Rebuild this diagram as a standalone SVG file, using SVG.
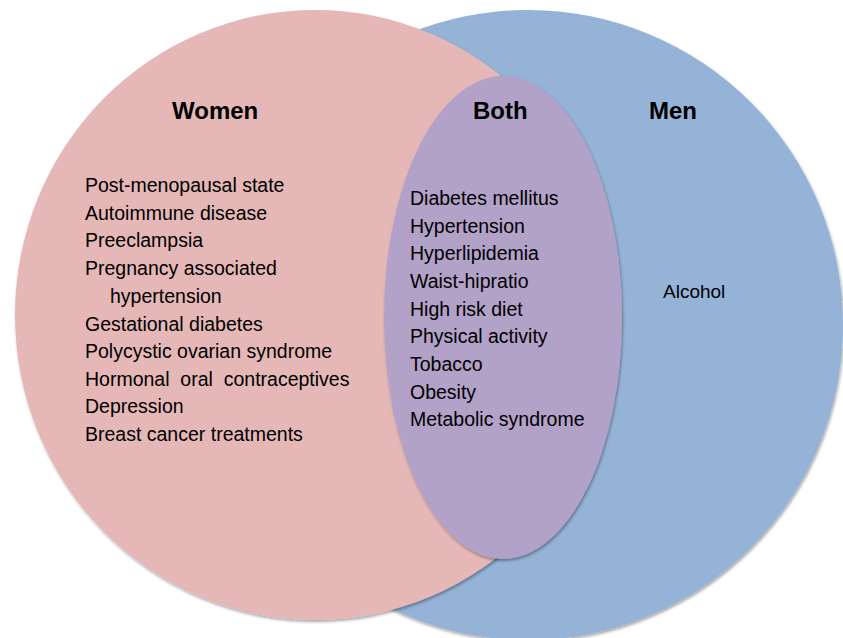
<svg xmlns="http://www.w3.org/2000/svg" width="843" height="638" viewBox="0 0 843 638">
  <style>
    .title { font-family: "Liberation Sans", Arial, sans-serif; font-weight: bold; font-size: 24px; fill: #000; }
    .item { font-family: "Liberation Sans", Arial, sans-serif; font-size: 19.5px; fill: #000; white-space: pre; }
    .small { font-family: "Liberation Sans", Arial, sans-serif; font-size: 19px; fill: #000; }
  </style>
  <defs>
    <filter id="shadow" x="-10%" y="-10%" width="120%" height="120%">
      <feDropShadow dx="1" dy="2" stdDeviation="1.5" flood-color="#000" flood-opacity="0.35"/>
    </filter>
  </defs>
  <rect width="843" height="638" fill="#ffffff"/>

  <g id="men">
    <circle cx="528" cy="325" r="315" fill="#95B3D7" filter="url(#shadow)"/>
  </g>

  <g id="women">
    <ellipse cx="315" cy="315" rx="300" ry="305" fill="#E5B8B7" filter="url(#shadow)"/>
  </g>

  <g id="both">
    <ellipse cx="503" cy="317.5" rx="119" ry="241.5" fill="#B2A2C7" filter="url(#shadow)"/>
  </g>

  <g id="women-text">
    <text class="title" x="172" y="119">Women</text>
    <text class="item" x="85" y="192.3">Post-menopausal state</text>
    <text class="item" x="85" y="220">Autoimmune disease</text>
    <text class="item" x="85" y="247.3">Preeclampsia</text>
    <text class="item" x="85" y="275">Pregnancy associated</text>
    <text class="item" x="110" y="302.7">hypertension</text>
    <text class="item" x="85" y="330.7">Gestational diabetes</text>
    <text class="item" x="85" y="358.3">Polycystic ovarian syndrome</text>
    <text class="item" x="85" y="386">Hormonal  oral  contraceptives</text>
    <text class="item" x="85" y="413.3">Depression</text>
    <text class="item" x="85" y="441">Breast cancer treatments</text>
  </g>

  <g id="both-text">
    <text class="title" x="473" y="119">Both</text>
    <text class="item" x="410" y="205">Diabetes mellitus</text>
    <text class="item" x="410" y="232.7">Hypertension</text>
    <text class="item" x="410" y="260.4">Hyperlipidemia</text>
    <text class="item" x="410" y="288">Waist-hipratio</text>
    <text class="item" x="410" y="315.7">High risk diet</text>
    <text class="item" x="410" y="343.4">Physical activity</text>
    <text class="item" x="410" y="371">Tobacco</text>
    <text class="item" x="410" y="398.7">Obesity</text>
    <text class="item" x="410" y="426.4">Metabolic syndrome</text>
  </g>

  <g id="men-text">
    <text class="title" x="649" y="119">Men</text>
    <text class="small" x="663" y="298">Alcohol</text>
  </g>

  <g id="connectors"></g>
</svg>
